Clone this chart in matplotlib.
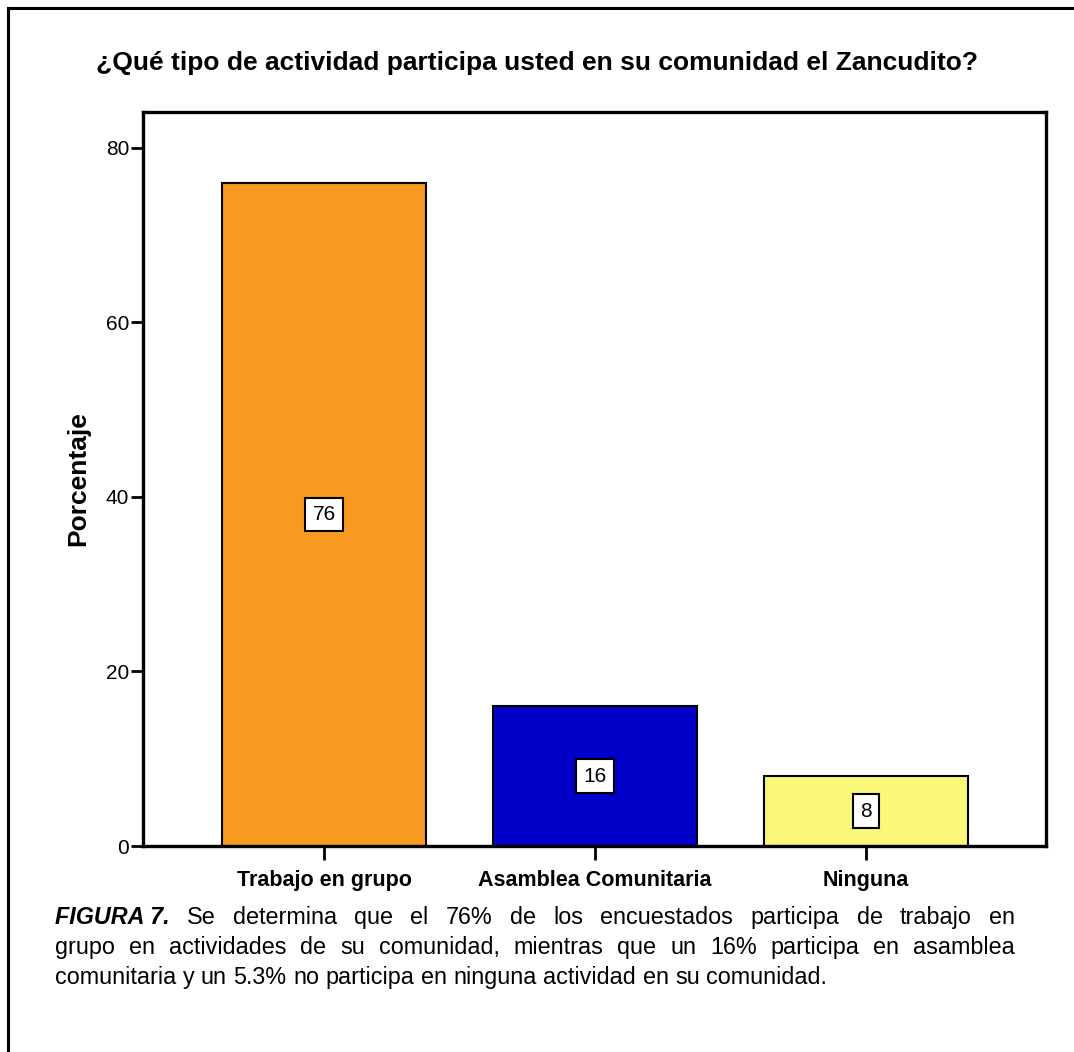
import matplotlib
matplotlib.use("Agg")
import matplotlib.pyplot as plt
from matplotlib import font_manager
from matplotlib.lines import Line2D

categories = ["Trabajo en grupo", "Asamblea Comunitaria", "Ninguna"]
percentages = [76, 16, 8]
bar_colors = ["#F89A22", "#0000C8", "#FAF87A"]
yticks = [0, 20, 40, 60, 80]

title = "¿Qué tipo de actividad participa usted en su comunidad el Zancudito?"
ylabel = "Porcentaje"
caption_bold = "FIGURA 7."
caption_lines = [
    "Se determina que el 76% de los encuestados participa de trabajo en",
    "grupo en actividades de su comunidad, mientras que un 16% participa en asamblea",
    "comunitaria y un 5.3% no participa en ninguna actividad en su comunidad.",
]

names = {f.name for f in font_manager.fontManager.ttflist}
narrow = "Liberation Sans Narrow" if "Liberation Sans Narrow" in names else "Liberation Sans"
plt.rcParams["font.family"] = [narrow, "DejaVu Sans"]

fig = plt.figure(figsize=(10.74, 10.52), dpi=100)
ax = fig.add_axes([143 / 1074, 1 - 846 / 1052, 903 / 1074, 734 / 1052])

x = range(len(categories))
ax.bar(x, percentages, width=0.753, color=bar_colors, edgecolor="black", linewidth=1.5)
for xi, v in zip(x, percentages):
    ax.text(xi, v / 2, str(v), ha="center", va="center", fontsize=15,
            bbox=dict(boxstyle="square,pad=0.35", fc="white", ec="black", lw=1.5))

ax.set_xlim(-0.668, 2.664)
ax.set_ylim(0, 84.1)
ax.set_yticks(yticks)
ax.set_xticks(list(x))
ax.set_xticklabels(categories, fontsize=15.5, fontweight="bold")
ax.tick_params(axis="y", labelsize=15, length=9, width=2, pad=1)
ax.tick_params(axis="x", length=10, width=2, pad=7)
for s in ax.spines.values():
    s.set_linewidth(2.4)
ax.set_ylabel(ylabel, fontsize=19, fontweight="bold", family="Liberation Sans", labelpad=11)

fig.text(537 / 1074, 1 - 63 / 1052, title, ha="center", va="center",
         fontsize=19, fontweight="bold")

# outer frame (left and top only)
fig.add_artist(Line2D([8 / 1074, 8 / 1074], [0, 1 - 8 / 1052], color="black", lw=2.2))
fig.add_artist(Line2D([8 / 1074, 1], [1 - 8 / 1052, 1 - 8 / 1052], color="black", lw=2.2))

# caption, first two lines justified
cap_size = 16.8
renderer = fig.canvas.get_renderer()
left_px, right_px = 55, 1015
line_y = [924, 954, 984]


def width_px(t):
    return t.get_window_extent(renderer).width


space = (width_px(fig.text(0, 0, "a a", fontsize=cap_size, family="Liberation Sans", alpha=0))
         - 2 * width_px(fig.text(0, 0, "a", fontsize=cap_size, family="Liberation Sans", alpha=0)))

for i, line in enumerate(caption_lines):
    y = 1 - line_y[i] / 1052
    words = []
    if i == 0:
        words.append(fig.text(0, y, caption_bold, fontsize=cap_size, fontweight="bold",
                              style="italic", family="Liberation Sans", va="baseline"))
    for w in line.split():
        words.append(fig.text(0, y, w, fontsize=cap_size, family="Liberation Sans",
                              va="baseline"))
    widths = [width_px(t) for t in words]
    if i < 2:
        gap = (right_px - left_px - sum(widths)) / (len(words) - 1)
    else:
        gap = space
    xpos = left_px
    for t, w in zip(words, widths):
        t.set_x(xpos / 1074)
        xpos += w + gap

fig.savefig("out.png", dpi=100)
